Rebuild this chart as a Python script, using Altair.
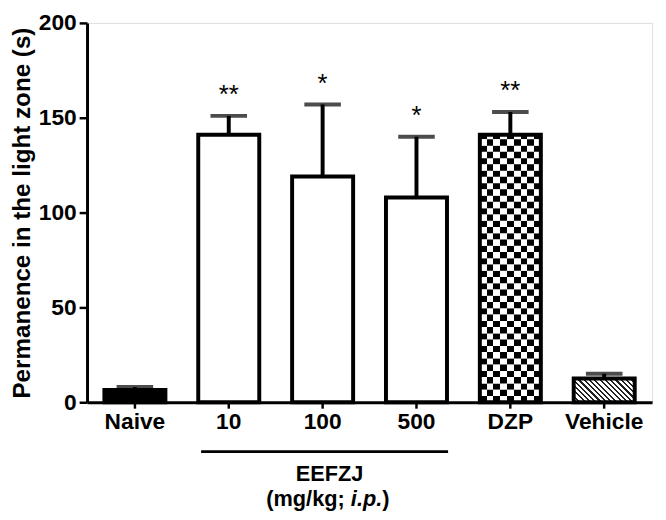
import math
import altair as alt
import pandas as pd

groups = ["Naive", "10", "100", "500", "DZP", "Vehicle"]
means = [6.5, 141, 119, 108, 141, 12.5]
sems = [1.5, 10, 38, 32, 12, 2.5]
stars = ["", "**", "*", "*", "**", ""]
fills = ["black", "white", "white", "white", "white", "white"]
tick_vals = [0, 50, 100, 150, 200]

W, H = 572, 384
FONT = "Liberation Sans"

df = pd.DataFrame({"group": groups, "mean": means, "sem": sems, "star": stars})
df["top"] = df["mean"] + df["sem"]

xs = alt.Scale(domain=groups, paddingInner=0.35, paddingOuter=0.185)
ys = alt.Scale(domain=[0, 200])

xaxis = alt.Axis(title=None, labelAngle=0, labelFont=FONT, labelFontSize=23,
                 labelFontWeight="bold", labelColor="black", domainColor="black",
                 domainWidth=3, tickColor="black", tickWidth=2.5, tickSize=6,
                 labelPadding=3)
yaxis = alt.Axis(title="Permanence in the light zone (s)", values=tick_vals,
                 titleFont=FONT, titleFontSize=24.5, titleFontWeight="bold",
                 titleColor="black", titlePadding=4, labelFont=FONT,
                 labelFontSize=23, labelFontWeight="bold", labelColor="black",
                 domainColor="black", domainWidth=3, tickColor="black",
                 tickWidth=2.5, tickSize=8, labelPadding=3, grid=False)


def X(field="group"):
    return alt.X(f"{field}:N", scale=xs, sort=groups, axis=xaxis)


def Y(field):
    return alt.Y(f"{field}:Q", scale=ys, axis=yaxis)


base = alt.Chart(df)

# base fills
fill_layer = base.mark_bar(strokeWidth=0).encode(
    x=X(), y=Y("mean"),
    fill=alt.Fill("group:N", scale=alt.Scale(domain=groups, range=fills), legend=None),
)

# checkerboard texture for DZP (rows of alternating cells)
n_cols = 9
row_h = 3.3
dzp_mean = means[4]
rows = []
k = 0
while k * row_h < dzp_mean:
    rows.append({"group": "DZP", "y0": k * row_h,
                 "y1": min((k + 1) * row_h + 0.05, dzp_mean), "phase": k % 2})
    k += 1
rows_df = pd.DataFrame(rows)


def checker_stops(start_black):
    stops = []
    for i in range(n_cols):
        black = (i % 2 == 0) == start_black
        c = "black" if black else "white"
        stops.append({"offset": i / n_cols, "color": c})
        stops.append({"offset": (i + 1) / n_cols, "color": c})
    return stops


checker_layers = []
for ph in (0, 1):
    grad = {"gradient": "linear", "x1": 0, "y1": 0, "x2": 1, "y2": 0,
            "stops": checker_stops(ph == 0)}
    checker_layers.append(
        alt.Chart(rows_df[rows_df["phase"] == ph]).mark_bar(fill=grad, strokeWidth=0).encode(
            x=X(), y=Y("y0"), y2="y1"
        )
    )

# diagonal hatch for Vehicle
veh_h = means[5] * H / 200
band_w = W / (len(groups) - 0.35 + 2 * 0.185) * 0.65
kk = (band_w + veh_h) / (band_w ** 2 + veh_h ** 2)
n_str = 16
hstops = []
for i in range(n_str):
    a, b, c = i / n_str, (i + 0.4) / n_str, (i + 1) / n_str
    hstops += [{"offset": a, "color": "#222222"}, {"offset": b, "color": "#222222"},
               {"offset": b, "color": "white"}, {"offset": c, "color": "white"}]
hatch = {"gradient": "linear", "x1": 0, "y1": 1, "x2": kk * band_w, "y2": 1 - kk * veh_h,
         "stops": hstops}
hatch_layer = alt.Chart(df[df["group"] == "Vehicle"]).mark_bar(fill=hatch, strokeWidth=0).encode(
    x=X(), y=Y("mean")
)

outline = base.mark_bar(fill="white", fillOpacity=0, stroke="black", strokeWidth=4).encode(
    x=X(), y=Y("mean")
)

err_rule = base.mark_rule(color="black", strokeWidth=4).encode(
    x=X(), y=Y("mean"), y2="top"
)
err_cap = base.mark_tick(color="black", thickness=4, size=37).encode(
    x=X(), y=Y("top")
)
star_text = base.mark_text(font=FONT, fontSize=26, color="black", dy=-13,
                           baseline="alphabetic").encode(
    x=X(), y=Y("top"), text="star:N"
)

# group annotation below axis
ann = pd.DataFrame({"g1": ["10"], "g2": ["500"], "mid": ["100"]})
ann_base = alt.Chart(ann)
bracket = ann_base.mark_rule(color="black", strokeWidth=3, xOffset=-28, x2Offset=32).encode(
    x=X("g1"), x2="g2", y=alt.value(434)
)
t1 = ann_base.mark_text(text="EEFZJ", font=FONT, fontSize=22, fontWeight="bold",
                        color="black", baseline="middle", xOffset=7).encode(
    x=X("mid"), y=alt.value(457)
)
t2 = ann_base.mark_text(text="(mg/kg;", font=FONT, fontSize=22, fontWeight="bold",
                        color="black", baseline="middle", align="left", xOffset=-57).encode(
    x=X("mid"), y=alt.value(482)
)
t3 = ann_base.mark_text(text="i.p.", font=FONT, fontSize=22, fontWeight="bold",
                        fontStyle="italic", color="black", baseline="middle",
                        align="left", xOffset=28.6).encode(
    x=X("mid"), y=alt.value(482)
)
t4 = ann_base.mark_text(text=")", font=FONT, fontSize=22, fontWeight="bold",
                        color="black", baseline="middle", align="left", xOffset=60.4).encode(
    x=X("mid"), y=alt.value(482)
)

chart = alt.layer(
    fill_layer, *checker_layers, hatch_layer, outline, err_rule, err_cap, star_text,
    bracket, t1, t2, t3, t4
).properties(
    width=W, height=H,
    autosize=alt.AutoSizeParams(type="none"),
    padding={"left": 80, "top": 12, "right": 6, "bottom": 108},
).configure_view(stroke=None).configure(background="white")

chart.save("out.html", embed_options={"renderer": "svg", "actions": False})
